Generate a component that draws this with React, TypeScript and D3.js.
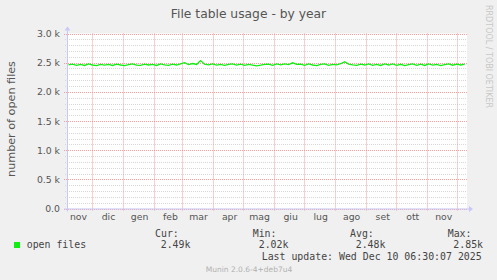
import React from "react";
import * as d3 from "d3";

const monthLabels = ["gen", "feb", "mar", "apr", "mag", "giu", "lug", "ago", "set", "ott", "nov", "dic"];
const yTicks = [0, 500, 1000, 1500, 2000, 2500, 3000];
const yTickLabels = ["0.0", "0.5 k", "1.0 k", "1.5 k", "2.0 k", "2.5 k", "3.0 k"];
const seriesName = "open files";
const openFiles = [
  2462, 2475, 2455, 2470, 2452, 2478, 2460, 2448, 2472, 2458,
  2470, 2452, 2476, 2460, 2450, 2468, 2480, 2458, 2455, 2474,
  2460, 2470, 2452, 2478, 2462, 2455, 2475, 2460, 2480, 2500,
  2468, 2485, 2470, 2535, 2475, 2462, 2480, 2458, 2472, 2455,
  2470, 2480, 2458, 2475, 2455, 2472, 2458, 2445, 2456, 2470,
  2475, 2455, 2478, 2462, 2480, 2468, 2498, 2470, 2475, 2455,
  2478, 2460, 2450, 2472, 2480, 2455, 2470, 2462, 2482, 2515,
  2475, 2462, 2455, 2476, 2460, 2480, 2455, 2472, 2452, 2478,
  2460, 2480, 2455, 2472, 2450, 2466, 2478, 2455, 2474, 2452,
  2478, 2458, 2472, 2450, 2468, 2478, 2456, 2474, 2460, 2476,
];
const legendHeaders = ["Cur:", "Min:", "Avg:", "Max:"];
const legendValues = ["2.49k", "2.02k", "2.48k", "2.85k"];
const lastUpdate = "Last update: Wed Dec 10 06:30:07 2025";

const W = 497, H = 280;
const L = 67, R = 466, T = 33.5, B = 208.5;
const sans = "'DejaVu Sans', sans-serif";
const mono = "'DejaVu Sans Mono', monospace";
const green = "#11ee11";

export default function App() {
  const start = new Date(2024, 10, 6, 12);
  const end = new Date(2025, 11, 10, 6, 30);
  const x = d3.scaleTime().domain([start, end]).range([L, R]);
  const y = d3.scaleLinear().domain([0, 3000]).range([B, T]);
  const dataStart = new Date(2024, 10, 8);
  const pts = openFiles.map((v, i) => ({ d: d3.timeDay.offset(dataStart, i * 4), v }));
  const line = d3.line<{ d: Date; v: number }>().x((p) => x(p.d)).y((p) => y(p.v));
  const monthStarts = d3.timeMonth.range(d3.timeMonth.floor(start), end);
  const monthGrid = monthStarts.filter((m) => m > start);
  const minor = d3.range(100, 3000, 100).filter((v) => v % 500 !== 0);
  const hdrX = [155, 252.7, 350, 447.7];
  const valX = [160.7, 258.7, 355.7, 453.3];
  return (
    <div style={{ position: "absolute", left: 0, top: 0 }}>
      <svg width={W} height={H} style={{ display: "block" }}>
        <rect x={0} y={0} width={W} height={H} fill="#f0f0f0" />
        <rect x={L} y={T} width={R - L + 1} height={B - T} fill="#ffffff" />
        {minor.map((v) => (
          <line key={"mi" + v} x1={L - 2} x2={R + 1} y1={Math.round(y(v)) + 0.5} y2={Math.round(y(v)) + 0.5}
            stroke="#d8d8d8" strokeDasharray="1,1" strokeWidth={1} />
        ))}
        {yTicks.map((v) => (
          <line key={"ma" + v} x1={L - 3} x2={R + 1} y1={Math.round(y(v)) + 0.5} y2={Math.round(y(v)) + 0.5}
            stroke="#f2a0a0" strokeDasharray="1,1" strokeWidth={1} />
        ))}
        {monthGrid.map((m) => (
          <line key={"vg" + m.getTime()} x1={Math.round(x(m)) + 0.5} x2={Math.round(x(m)) + 0.5} y1={T} y2={B + 3}
            stroke="#f2a0a0" strokeDasharray="1,1" strokeWidth={1} />
        ))}
        {/* axes */}
        <line x1={L - 3} x2={R + 3} y1={B + 0.5} y2={B + 0.5} stroke="#c8c8f8" />
        <path d={`M${R + 3},${B - 2.5} L${R + 7},${B + 0.5} L${R + 3},${B + 3.5} Z`} fill="#c8c8f8" />
        <line x1={L + 0.5} x2={L + 0.5} y1={B + 3} y2={T - 3} stroke="#c8c8f8" />
        <path d={`M${L - 2.5},${T - 3} L${L + 0.5},${T - 7} L${L + 3.5},${T - 3} Z`} fill="#c8c8f8" />
        <path d={line(pts) || ""} fill="none" stroke={green} strokeWidth={1.3} />
        {/* y tick labels */}
        {yTicks.map((v, i) => (
          <text key={"yt" + v} x={60} y={y(v) + 3.5} textAnchor="end" fontFamily={sans} fontSize={9.3} fill="#555">
            {yTickLabels[i]}
          </text>
        ))}
        {/* month labels */}
        {monthStarts.map((m) => {
          const c = d3.timeDay.offset(m, 17);
          if (c < start || c > end) return null;
          return (
            <text key={"ml" + m.getTime()} x={x(c)} y={220} textAnchor="middle" fontFamily={sans} fontSize={9.3} fill="#555">
              {monthLabels[m.getMonth()]}
            </text>
          );
        })}
        <text x={248.5} y={17.5} textAnchor="middle" fontFamily={sans} fontSize={12.3} fill="#555">
          File table usage - by year
        </text>
        <text transform="translate(14.5,119) rotate(-90)" textAnchor="middle" fontFamily={sans} fontSize={11.2} fill="#555">
          number of open files
        </text>
        <text transform="translate(486,5) rotate(90)" fontFamily={sans} fontSize={8} fill="#c8c8c8">
          RRDTOOL / TOBI OETIKER
        </text>
        {legendHeaders.map((h, i) => (
          <text key={h} x={hdrX[i]} y={237} fontFamily={mono} fontSize={9.9} fill="#444">{h}</text>
        ))}
        <rect x={14} y={242} width={6} height={6} fill={green} />
        <text x={26.7} y={248} fontFamily={mono} fontSize={9.9} fill="#444">{seriesName}</text>
        {legendValues.map((v, i) => (
          <text key={"lv" + i} x={valX[i]} y={248} fontFamily={mono} fontSize={9.9} fill="#444">{v}</text>
        ))}
        <text x={261.7} y={259.5} fontFamily={mono} fontSize={9.9} fill="#444">{lastUpdate}</text>
        <text x={249} y={272} textAnchor="middle" fontFamily={sans} fontSize={7.5} fill="#b0b0b0">
          Munin 2.0.6-4+deb7u4
        </text>
      </svg>
    </div>
  );
}
